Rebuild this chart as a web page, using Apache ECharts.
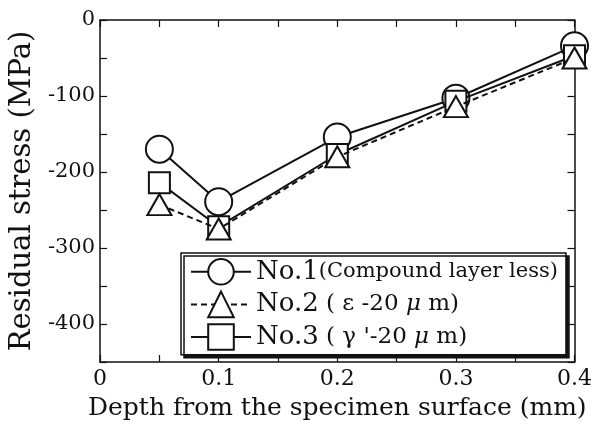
<!DOCTYPE html>
<html>
<head>
<meta charset="UTF-8">
<title>Residual stress</title>
<script src="https://cdn.jsdelivr.net/npm/echarts@6/dist/echarts.min.js"></script>
</head>
<body style="margin:0">
<div id="main" style="width:595px;height:431px;"></div>
<script type="text/javascript">
// depth (mm) and residual stress (MPa)
var depth = [0.05, 0.1, 0.2, 0.3, 0.4];
var no1 = [-170, -239, -154, -103, -34];
var no2 = [-243, -275, -180, -114, -50];
var no3 = [-214, -272, -177, -107, -47];
var seriesNames = ['No.1', 'No.2', 'No.3'];

var font = 'DejaVu Serif';
var ink = '#111';

function pairs(ys) {
    return depth.map(function (d, i) { return [d, ys[i]]; });
}

var myChart = echarts.init(document.getElementById('main'));

var tickStyle = { show: true, inside: true, length: 7, lineStyle: { color: ink, width: 1.2 } };
var lineStyle = { show: true, onZero: false, lineStyle: { color: ink, width: 1.5 } };

var option = {
    backgroundColor: '#fff',
    animation: false,
    grid: { left: 97, right: 18, top: 20, bottom: 69 },
    legend: {
        orient: 'vertical',
        left: 181,
        top: 253,
        data: seriesNames,
        itemWidth: 60,
        itemHeight: 32,
        itemGap: 5,
        padding: [5, 8, 4, 9],
        backgroundColor: '#fff',
        borderColor: ink,
        borderWidth: 1.5,
        shadowColor: ink,
        shadowBlur: 0,
        shadowOffsetX: 3,
        shadowOffsetY: 3,
        textStyle: {
            color: ink,
            fontFamily: font,
            rich: {
                a: { fontFamily: font, fontSize: 26, color: ink },
                b: { fontFamily: font, fontSize: 21, color: ink },
                c: { fontFamily: font, fontSize: 23, color: ink },
                i: { fontFamily: font, fontSize: 23, color: ink, fontStyle: 'italic' }
            }
        },
        formatter: function (name) {
            if (name === 'No.1') return '{a|No.1}{b|(Compound layer less)}';
            if (name === 'No.2') return '{a|No.2}{c| ( ε -20 }{i|μ}{c| m)}';
            return '{a|No.3}{c| ( γ \'-20 }{i|μ}{c| m)}';
        }
    },
    xAxis: [{
        type: 'value',
        min: 0, max: 0.4, interval: 0.05,
        name: 'Depth from the specimen surface (mm)',
        nameLocation: 'middle',
        nameGap: 34,
        nameTextStyle: { fontFamily: font, fontSize: 25, color: ink },
        axisLine: lineStyle,
        axisTick: tickStyle,
        splitLine: { show: false },
        axisLabel: {
            fontFamily: font, fontSize: 22, color: ink, margin: 6,
            formatter: function (v) {
                var k = Math.round(v * 100);
                if (k % 10 !== 0) return '';
                return k === 0 ? '0' : (k / 100).toFixed(1);
            }
        }
    }, {
        type: 'value', position: 'top',
        min: 0, max: 0.4, interval: 0.05,
        axisLine: lineStyle, axisTick: tickStyle,
        axisLabel: { show: false }, splitLine: { show: false }
    }],
    yAxis: [{
        type: 'value',
        min: -450, max: 0, interval: 50,
        name: 'Residual stress (MPa)',
        nameLocation: 'middle',
        nameGap: 56,
        nameTextStyle: { fontFamily: font, fontSize: 29, color: ink },
        axisLine: lineStyle,
        axisTick: tickStyle,
        splitLine: { show: false },
        axisLabel: {
            fontFamily: font, fontSize: 21, color: ink, margin: 5,
            formatter: function (v) {
                return v % 100 === 0 ? String(v) : '';
            }
        }
    }, {
        type: 'value', position: 'right',
        min: -450, max: 0, interval: 50,
        axisLine: lineStyle, axisTick: tickStyle,
        axisLabel: { show: false }, splitLine: { show: false }
    }],
    series: [{
        name: 'No.1',
        type: 'line',
        z: 2,
        data: pairs(no1),
        symbol: 'circle',
        symbolSize: 27,
        lineStyle: { color: ink, width: 2 },
        itemStyle: { color: '#fff', borderColor: ink, borderWidth: 2 }
    }, {
        name: 'No.2',
        type: 'line',
        z: 4,
        data: pairs(no2),
        symbol: 'triangle',
        symbolSize: [24, 21],
        lineStyle: { color: ink, width: 2, type: [6, 4] },
        itemStyle: { color: '#fff', borderColor: ink, borderWidth: 2 }
    }, {
        name: 'No.3',
        type: 'line',
        z: 3,
        data: pairs(no3),
        symbol: 'rect',
        symbolSize: 21,
        lineStyle: { color: ink, width: 2 },
        itemStyle: { color: '#fff', borderColor: ink, borderWidth: 2 }
    }]
};

myChart.setOption(option);
</script>
</body>
</html>
